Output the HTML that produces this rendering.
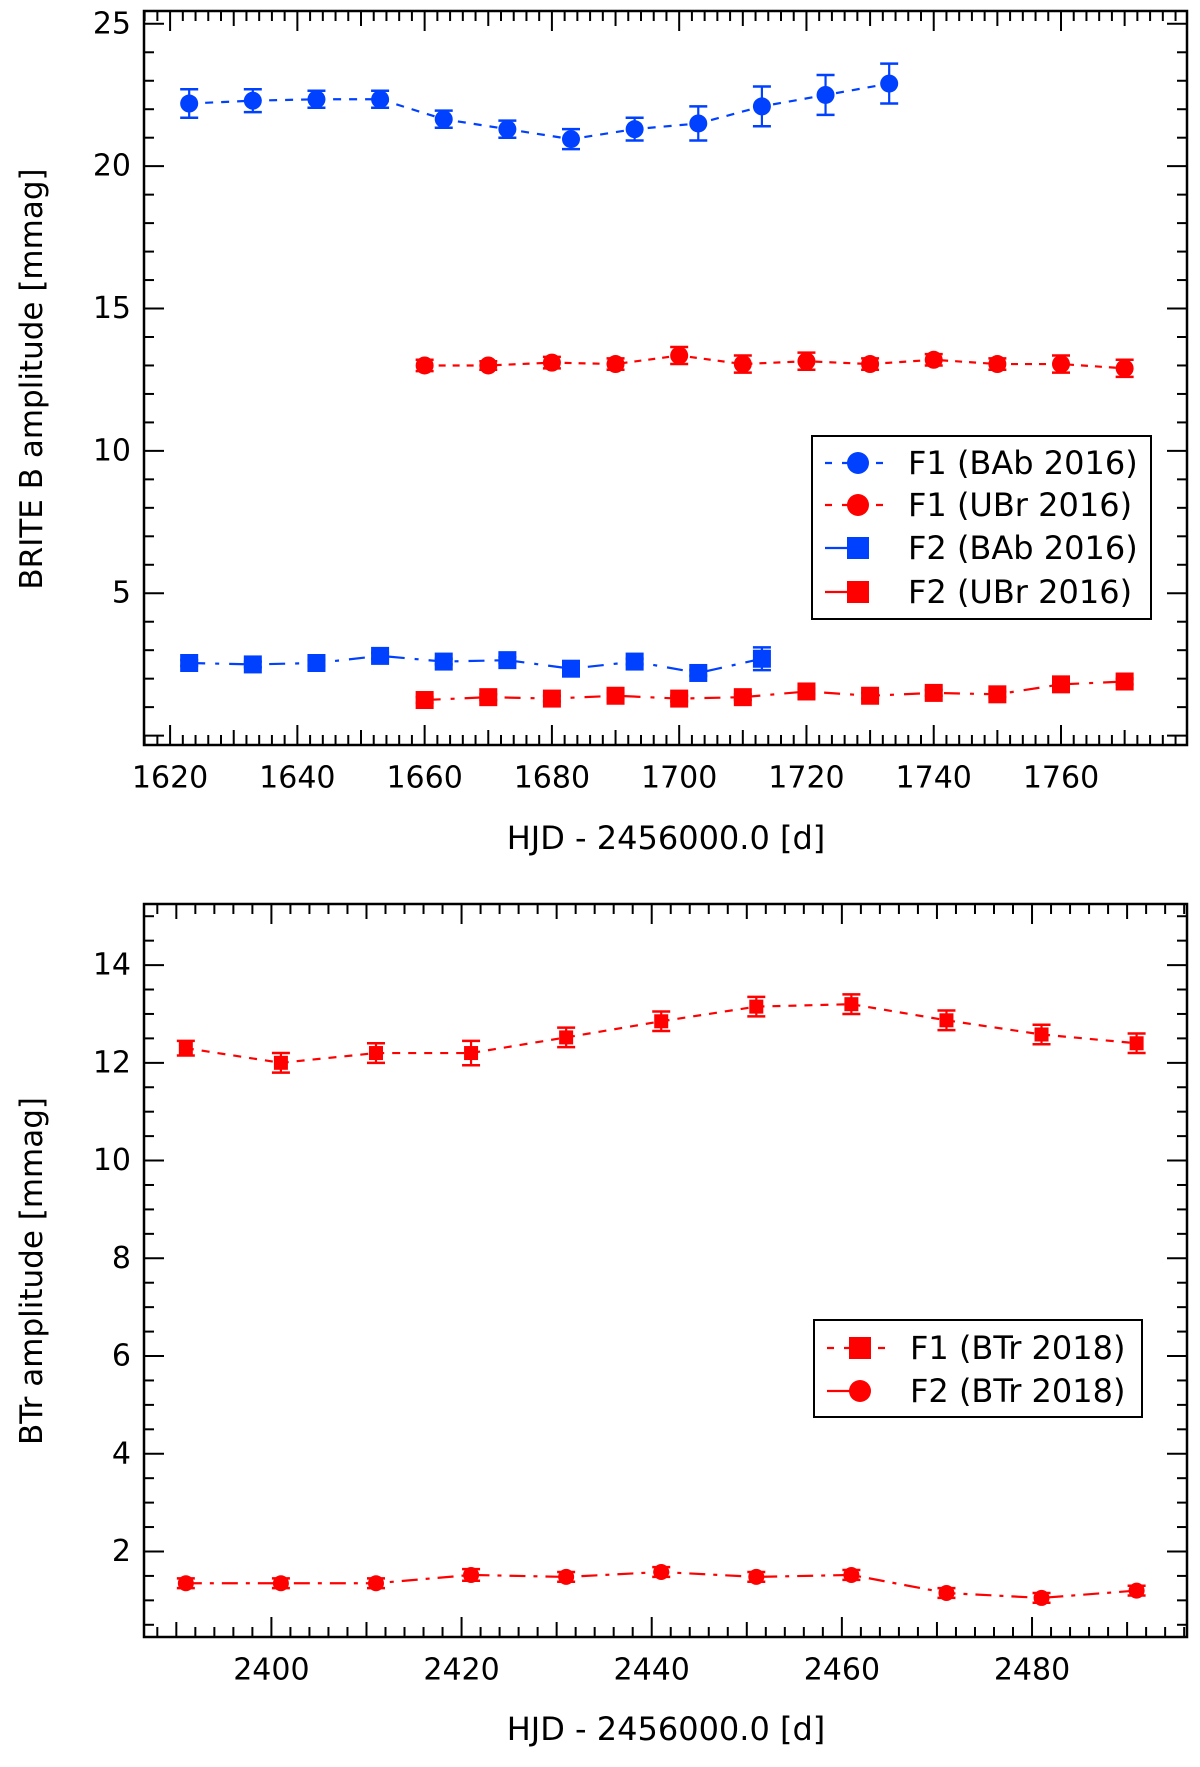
<!DOCTYPE html>
<html><head><meta charset="utf-8"><style>
html,body{margin:0;padding:0;background:#fff;}
svg text{font-family:"DejaVu Sans","Liberation Sans",sans-serif;fill:#000;}
</style></head><body>
<svg id="fig" width="1200" height="1762" viewBox="0 0 1200 1762" xmlns="http://www.w3.org/2000/svg"></svg>
<script>
// ---- Top panel data ----
const f1BAbX = [1623,1633,1643,1653,1663,1673,1683,1693,1703,1713,1723,1733];
const f1BAbY = [22.2,22.3,22.35,22.35,21.65,21.3,20.95,21.3,21.5,22.1,22.5,22.9];
const f1BAbE = [0.5,0.4,0.3,0.3,0.3,0.3,0.35,0.4,0.6,0.7,0.7,0.7];
const f1UBrX = [1660,1670,1680,1690,1700,1710,1720,1730,1740,1750,1760,1770];
const f1UBrY = [13.0,13.0,13.1,13.05,13.35,13.05,13.15,13.05,13.2,13.05,13.05,12.9];
const f1UBrE = [0.2,0.15,0.2,0.2,0.3,0.3,0.3,0.2,0.2,0.2,0.3,0.3];
const f2BAbX = [1623,1633,1643,1653,1663,1673,1683,1693,1703,1713];
const f2BAbY = [2.55,2.5,2.55,2.8,2.6,2.65,2.35,2.6,2.2,2.7];
const f2BAbE = [0.1,0.1,0.1,0.1,0.1,0.1,0.1,0.1,0.1,0.4];
const f2UBrX = [1660,1670,1680,1690,1700,1710,1720,1730,1740,1750,1760,1770];
const f2UBrY = [1.25,1.35,1.3,1.4,1.3,1.35,1.55,1.4,1.5,1.45,1.8,1.9];
const f2UBrE = [0.1,0.1,0.1,0.1,0.1,0.1,0.1,0.1,0.1,0.1,0.1,0.1];
const topXTicks = [1620,1640,1660,1680,1700,1720,1740,1760];
const topYTicks = [5,10,15,20,25];
// ---- Bottom panel data ----
const btrX = [2391,2401,2411,2421,2431,2441,2451,2461,2471,2481,2491];
const btrF1Y = [12.3,12.0,12.2,12.2,12.52,12.85,13.15,13.2,12.87,12.58,12.4];
const btrF1E = [0.15,0.2,0.2,0.25,0.2,0.2,0.2,0.2,0.2,0.2,0.2];
const btrF2Y = [1.35,1.35,1.35,1.52,1.48,1.58,1.48,1.52,1.15,1.05,1.2];
const btrF2E = [0.1,0.1,0.1,0.12,0.1,0.1,0.1,0.1,0.1,0.1,0.1];
const botXTicks = [2400,2420,2440,2460,2480];
const botYTicks = [2,4,6,8,10,12,14];

const NS="http://www.w3.org/2000/svg";
const svg=document.getElementById('fig');
const BLUE="#0040ff", RED="#ff0000";
function mk(tag,attrs,parent){const e=document.createElementNS(NS,tag);for(const k in attrs)e.setAttribute(k,attrs[k]);(parent||svg).appendChild(e);return e;}

function panel(name,L,R,T,B,x0,x1,y0,y1,xMinor,xMid,yMinor,yMajorStep){
  const g=mk('g',{});
  
  
  const sx=v=>L+(v-x0)/(x1-x0)*(R-L);
  const sy=v=>B-(v-y0)/(y1-y0)*(B-T);
  const fr=mk('rect',{x:L,y:T,width:R-L,height:B-T,fill:'none',stroke:'#000','stroke-width':2.5},g);
  
  
  return {g,sx,sy,L,R,T,B,x0,x1,y0,y1,xMinor,xMid,yMinor,yMajorStep};
}
function ticks(p,xT,yT,xTitle,yTitle,yTitleY,xTitleY,labelY){
  const ta=mk('g',{stroke:'#000','stroke-width':2},p.g);
  
  
  const eps=1e-6;
  for(let v=Math.ceil(p.x0/p.xMinor)*p.xMinor;v<=p.x1;v+=p.xMinor){
    const x=p.sx(v);
    const major=Math.abs(v/20-Math.round(v/20))<eps;
    const mid=Math.abs(v/p.xMid-Math.round(v/p.xMid))<eps;
    const len=major?20:(mid?15:10);
    mk('line',{x1:x,x2:x,y1:p.B,y2:p.B-len},ta);
    mk('line',{x1:x,x2:x,y1:p.T,y2:p.T+len},ta);
  }
  for(let v=Math.ceil(p.y0/p.yMinor)*p.yMinor;v<=p.y1;v+=p.yMinor){
    const y=p.sy(v);
    const major=Math.abs(v/p.yMajorStep-Math.round(v/p.yMajorStep))<eps;
    const len=major?20:10;
    mk('line',{x1:p.L,x2:p.L+len,y1:y,y2:y},ta);
    mk('line',{x1:p.R,x2:p.R-len,y1:y,y2:y},ta);
  }
  xT.forEach(v=>{const t=mk('text',{x:p.sx(v),y:labelY,'text-anchor':'middle','font-size':30,'dominant-baseline':'central'},p.g);t.textContent=v;
    
    });
  yT.forEach(v=>{const t=mk('text',{x:131,y:p.sy(v),'text-anchor':'end','font-size':30,'dominant-baseline':'central'},p.g);t.textContent=v;
    
    });
  const xt=mk('text',{x:666,y:xTitleY,'text-anchor':'middle','font-size':32,'dominant-baseline':'central'},p.g);xt.textContent=xTitle;
  
  
  const yt=mk('text',{x:0,y:0,'text-anchor':'middle','font-size':31,'dominant-baseline':'central',transform:`translate(32,${yTitleY}) rotate(-90)`},p.g);yt.textContent=yTitle;
  
  
}
function marker(g,shape,x,y,size,color){
  if(shape==='c') return mk('circle',{cx:x,cy:y,r:size/2,fill:color},g);
  return mk('rect',{x:x-size/2,y:y-size/2,width:size,height:size,fill:color},g);
}
function series(p,name,xs,ys,es,color,shape,dash,size){
  const g=mk('g',{},p.g);
  
  
  const pts=xs.map((x,i)=>p.sx(x)+','+p.sy(ys[i])).join(' ');
  mk('polyline',{points:pts,fill:'none',stroke:color,'stroke-width':2.2,'stroke-dasharray':dash},g);
  xs.forEach((x,i)=>{
    const cx=p.sx(x),yt=p.sy(ys[i]+es[i]),yb=p.sy(ys[i]-es[i]);
    mk('line',{x1:cx,x2:cx,y1:yt,y2:yb,stroke:color,'stroke-width':2.2},g);
    mk('line',{x1:cx-9,x2:cx+9,y1:yt,y2:yt,stroke:color,'stroke-width':2.5},g);
    mk('line',{x1:cx-9,x2:cx+9,y1:yb,y2:yb,stroke:color,'stroke-width':2.5},g);
    const m=marker(g,shape,cx,p.sy(ys[i]),size,color);
    
    
  });
}
function legend(p,name,x,y,w,h,rows){
  const g=mk('g',{},p.g);
  
  
  mk('rect',{x:x,y:y,width:w,height:h,fill:'#fff',stroke:'#000','stroke-width':2},g);
  rows.forEach(r=>{
    const e=mk('g',{},g);
    
    
    mk('line',{x1:x+13,x2:x+76,y1:r.y,y2:r.y,stroke:r.color,'stroke-width':2.2,'stroke-dasharray':r.dash},e);
    marker(e,r.shape,x+46,r.y,22,r.color);
    const t=mk('text',{x:x+96,y:r.y,'font-size':32,'dominant-baseline':'central'},e);t.textContent=r.label;
  });
}

// Top panel
const P1=panel('top-panel',144,1187,11,745,1615.9,1779.8,-0.33,25.45,2,10,1,5);
ticks(P1,topXTicks,topYTicks,'HJD - 2456000.0 [d]','BRITE B amplitude [mmag]',379,838,778);
series(P1,'f1-bab-2016',f1BAbX,f1BAbY,f1BAbE,BLUE,'c','8,8',18);
series(P1,'f1-ubr-2016',f1UBrX,f1UBrY,f1UBrE,RED,'c','7,7',18);
series(P1,'f2-bab-2016',f2BAbX,f2BAbY,f2BAbE,BLUE,'s','16,10,4,10',18);
series(P1,'f2-ubr-2016',f2UBrX,f2UBrY,f2UBrE,RED,'s','16,10,4,10',18);
legend(P1,'top-legend',812,436,339,183,[
 {y:463,color:BLUE,shape:'c',dash:'7,10',label:'F1 (BAb 2016)'},
 {y:505,color:RED,shape:'c',dash:'7,10',label:'F1 (UBr 2016)'},
 {y:548,color:BLUE,shape:'s',dash:'40,25',label:'F2 (BAb 2016)'},
 {y:592,color:RED,shape:'s',dash:'40,25',label:'F2 (UBr 2016)'}]);

// Bottom panel
const P2=panel('bottom-panel',144,1187,904,1637,2386.6,2496.3,0.25,15.25,2,10,0.5,2);
ticks(P2,botXTicks,botYTicks,'HJD - 2456000.0 [d]','BTr amplitude [mmag]',1271,1729,1670);
series(P2,'f1-btr-2018',btrX,btrF1Y,btrF1E,RED,'s','8,8',14);
series(P2,'f2-btr-2018',btrX,btrF2Y,btrF2E,RED,'c','16,8,4,8',16);
legend(P2,'bottom-legend',814,1320,328,97,[
 {y:1348,color:RED,shape:'s',dash:'7,10',label:'F1 (BTr 2018)'},
 {y:1391,color:RED,shape:'c',dash:'40,25',label:'F2 (BTr 2018)'}]);
</script>
</body></html>
